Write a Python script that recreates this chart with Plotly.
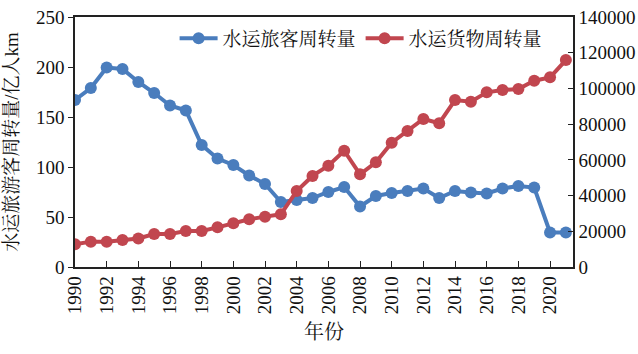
import plotly.graph_objects as go

years = list(range(1990, 2022))
passenger = [167, 179, 199.5, 198, 185, 174, 161.5, 156.5, 122, 108.5, 102, 91.5, 83,
             65, 67, 69, 75, 80, 60.5, 71, 74, 76, 78.5, 69, 76, 74.5, 73.5, 78.5, 81, 79.5, 34.5, 34.5]
freight = [12700, 14200, 14200, 15100, 16000, 18500, 18500, 20200, 20200, 22200, 24500, 26700, 28200,
           29500, 42600, 51000, 56700, 65100, 51900, 58600, 69600, 76200, 82900, 80500, 93500, 92600,
           97800, 99100, 99700, 104300, 106200, 115900]
x_ticks = list(range(1990, 2021, 2))
left_ticks = [0, 50, 100, 150, 200, 250]
right_ticks = [0, 20000, 40000, 60000, 80000, 100000, 120000, 140000]

BLUE = "#4a7dbd"
RED = "#c1464f"
FONT = "Liberation Serif, Times New Roman, Noto Serif CJK SC, Noto Sans CJK SC, serif"

fig = go.Figure()
fig.add_trace(go.Scatter(x=years, y=passenger, name="水运旅客周转量", mode="lines+markers",
                         line=dict(color=BLUE, width=4), marker=dict(color=BLUE, size=12)))
fig.add_trace(go.Scatter(x=years, y=freight, name="水运货物周转量", mode="lines+markers",
                         line=dict(color=RED, width=4), marker=dict(color=RED, size=12), yaxis="y2"))

fig.update_layout(
    width=638, height=354,
    margin=dict(l=75, r=65, t=17, b=87),
    paper_bgcolor="white", plot_bgcolor="white",
    font=dict(family=FONT, size=19, color="#111"),
    showlegend=True,
    legend=dict(orientation="h", x=0.2, y=0.99, xanchor="left", yanchor="top",
                font=dict(size=19, family=FONT), bgcolor="rgba(0,0,0,0)",
                itemwidth=38, tracegroupgap=0),
    xaxis=dict(range=[1990, 2021.45], tickvals=x_ticks, ticktext=[str(v) for v in x_ticks],
               tickangle=-90, ticks="inside", ticklen=6, tickcolor="#222", automargin=False,
               showline=True, linecolor="#222", linewidth=1.5, mirror=True,
               showgrid=False, zeroline=False,
               title=dict(text="年份", font=dict(size=20), standoff=12)),
    yaxis=dict(range=[0, 250], tickvals=left_ticks, ticks="outside", ticklen=5, tickcolor="#222",
               automargin=False,
               showline=True, linecolor="#222", linewidth=1.5, showgrid=False, zeroline=False,
               title=dict(text="水运旅游客周转量/亿人km", font=dict(size=19), standoff=12)),
    yaxis2=dict(range=[0, 140000], tickvals=right_ticks, ticktext=[str(v) for v in right_ticks],
                overlaying="y", side="right", automargin=False,
                ticks="inside", ticklen=5, tickcolor="#222",
                showline=True, linecolor="#222", linewidth=1.5, showgrid=False, zeroline=False),
)

fig.write_html("out.html")
